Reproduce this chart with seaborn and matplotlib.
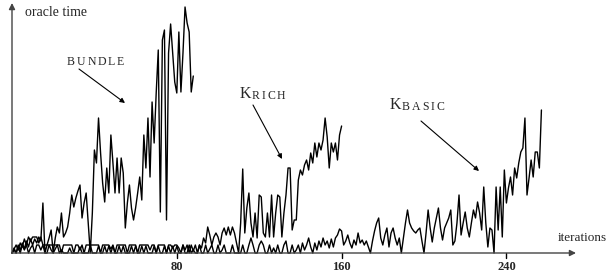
# plot.py
# Oracle time per iteration for the three methods (bundle, Krich, Kbasic)

import pandas as pd
import matplotlib.pyplot as plt
import seaborn as sns

sns.set_theme(style='white')  # plain white background, no grid
plt.rcParams['font.family'] = ['Liberation Serif', 'DejaVu Serif']

# oracle time per iteration (arbitrary units, no y ticks in the original)
bundle = [0, 5, 0, 8, 3, 10, 4, 12, 6, 14,
          8, 14, 10, 16, 12, 50, 0, 8, 15, 23,
          0, 15, 26, 20, 40, 16, 20, 26, 40, 58,
          46, 55, 62, 68, 35, 50, 60, 30, 0, 40,
          103, 90, 135, 100, 70, 51, 85, 60, 118, 90,
          60, 95, 60, 95, 80, 25, 50, 68, 45, 33,
          45, 60, 76, 53, 118, 85, 135, 76, 151, 110,
          160, 203, 41, 213, 223, 33, 200, 229, 200, 171,
          160, 221, 161, 200, 246, 230, 221, 161, 177]

krich = [0, 4, 8, 3, 10, 6, 14, 8, 16, 12,
         16, 16, 16, 10, 16, 8, 8, 8, 8, 8,
         8, 8, 8, 8, 0, 8, 8, 8, 8, 8,
         0, 8, 8, 3, 8, 0, 8, 8, 8, 8,
         8, 8, 8, 0, 8, 8, 8, 8, 4, 8,
         0, 8, 8, 8, 8, 8, 0, 8, 8, 8,
         8, 0, 8, 8, 8, 8, 8, 3, 8, 8,
         0, 8, 8, 8, 8, 0, 8, 8, 5, 8,
         8, 5, 0, 8, 3, 8, 0, 8, 2, 8,
         0, 8, 5, 15, 10, 26, 18, 8, 16, 20,
         16, 8, 20, 25, 18, 26, 18, 26, 20, 10,
         0, 30, 84, 20, 45, 60, 30, 16, 40, 15,
         58, 56, 20, 16, 40, 16, 58, 16, 40, 58,
         56, 16, 40, 58, 85, 85, 23, 33, 33, 73,
         83, 78, 88, 93, 83, 100, 90, 110, 96, 110,
         103, 113, 135, 116, 85, 110, 101, 110, 93, 118,
         127]

kbasic = [0, 3, 0, 6, 0, 8, 3, 8, 0, 5,
          8, 0, 8, 8, 3, 8, 0, 0, 8, 3,
          0, 4, 8, 0, 3, 0, 0, 0, 5, 0,
          0, 0, 0, 6, 0, 0, 0, 0, 8, 0,
          0, 0, 7, 0, 0, 7, 0, 7, 0, 7,
          0, 0, 7, 0, 7, 0, 0, 0, 7, 0,
          7, 0, 0, 7, 0, 7, 0, 0, 0, 7,
          0, 7, 0, 0, 7, 0, 7, 0, 7, 0,
          7, 0, 0, 8, 0, 0, 8, 0, 3, 0,
          0, 8, 0, 0, 8, 0, 4, 8, 0, 0,
          8, 0, 3, 8, 0, 0, 0, 8, 0, 0,
          0, 0, 8, 0, 0, 8, 15, 8, 0, 0,
          8, 12, 8, 0, 0, 8, 0, 5, 0, 8,
          0, 0, 8, 12, 0, 0, 8, 0, 3, 8,
          0, 10, 3, 8, 15, 6, 0, 10, 3, 12,
          6, 15, 8, 12, 5, 14, 6, 15, 18, 24,
          22, 8, 12, 18, 10, 5, 13, 8, 20, 10,
          13, 8, 12, 6,
          0, 12, 22, 30, 35, 15, 8, 18, 25, 6,
          20, 25, 15, 8, 15, 0, 15, 30, 43, 30,
          25, 22, 20, 23, 25, 12, 0, 20, 43, 25,
          11, 25, 35, 45, 25, 13, 25, 30, 35, 43,
          8, 12, 30, 58, 18, 30, 41, 25, 16, 30,
          43, 35, 51, 40, 23, 66, 30, 6, 25, 23,
          0, 66, 23, 66, 16, 83, 50, 65, 76, 58,
          85, 75, 90, 101, 105, 135, 58, 75, 93, 76,
          101, 101, 85, 143]

x_ticks = [80, 160, 240]

# long format table so seaborn can draw every method
frames = []
for name, values in [('bundle', bundle), ('Krich', krich), ('Kbasic', kbasic)]:
    frames.append(pd.DataFrame({'iteration': range(len(values)), 'time': values, 'method': name}))
df = pd.concat(frames, ignore_index=True)

fig = plt.figure(figsize=(6.08, 2.76), dpi=100)
ax = fig.add_axes([0, 0, 1, 1])

sns.lineplot(data=df, x='iteration', y='time', hue='method',
             palette=['black', 'black', 'black'], linewidth=1.0, legend=False, ax=ax)

# axes fill the whole figure, 1 iteration ~ 2.06 px, origin at pixel 12
px = 2.06
ax.set_xlim(-12 / px, 596 / px)
ax.set_ylim(-23, 253)
ax.axis('off')

# axis arrows
axis_col = '#444444'
arrow_axis = dict(arrowstyle='-|>', color=axis_col, lw=1, mutation_scale=9, shrinkA=0, shrinkB=0)
ax.annotate('', xy=(0, 250), xytext=(0, 0), arrowprops=arrow_axis)
ax.annotate('', xy=(564 / px, 0), xytext=(0, 0), arrowprops=arrow_axis)

for t in x_ticks:
    ax.plot([t, t], [0, -5], color='black', lw=1)
    ax.text(t, -14, str(t), ha='center', va='center', fontsize=9, fontweight='bold')

ax.text(13 / px, 241, 'oracle time', ha='left', va='center', fontsize=10)
ax.text(546 / px, 15, 'iterations', ha='left', va='center', fontsize=9.5)


def small_caps(x, y, first, rest, first_size=11.5):
    # first letter, then the rest in small letters spread a little apart
    prev = ax.text(x, y, first, ha='left', va='bottom', fontsize=first_size)
    for i, ch in enumerate(rest):
        gap = 0.4 if i == 0 else 1.3
        if first_size < 9:
            gap = 1.3
        prev = ax.annotate(ch, xy=(1, 0), xycoords=prev, xytext=(gap, 0),
                           textcoords='offset points', ha='left', va='bottom', fontsize=8.5)


arrow_lab = dict(arrowstyle='-|>', color='black', lw=0.8, mutation_scale=7, shrinkA=0, shrinkB=0)

# method labels in small caps with arrows
small_caps(55 / px, 185, 'B', 'UNDLE', first_size=8.5)
ax.annotate('', xy=(113 / px, 150), xytext=(67 / px, 184), arrowprops=arrow_lab)

small_caps(228 / px, 151, 'K', 'RICH')
ax.annotate('', xy=(270 / px, 94), xytext=(241 / px, 148), arrowprops=arrow_lab)

small_caps(378 / px, 140, 'K', 'BASIC')
ax.annotate('', xy=(467 / px, 82), xytext=(409 / px, 132), arrowprops=arrow_lab)

plt.savefig('out.png', dpi=100)
